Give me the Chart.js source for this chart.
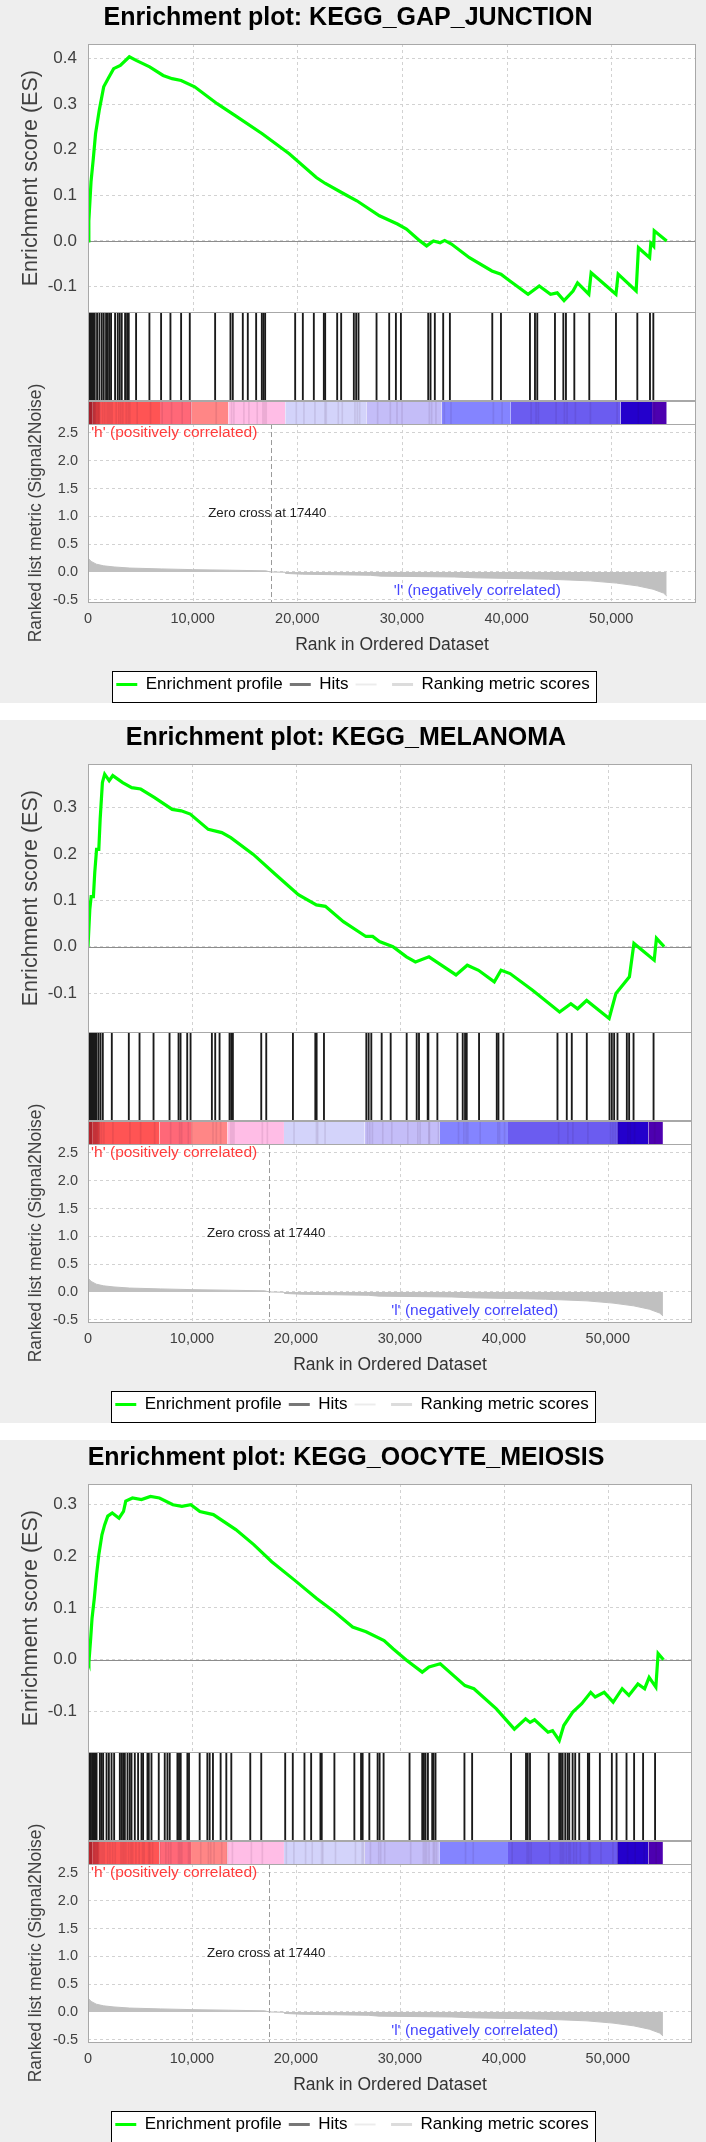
<!DOCTYPE html>
<html>
<head>
<meta charset="utf-8">
<title>GSEA enrichment plots</title>
<script src="https://cdn.jsdelivr.net/npm/chart.js@4.4.1/dist/chart.umd.min.js"></script>
<style>
  body { margin: 0; background: #fff; width: 706px; }
  .panel { width: 706px; height: 703px; background: #eeeeee; margin-bottom: 17px; }
  canvas { display: block; }
</style>
</head>
<body>
<div class="panel"><canvas id="gap" width="706" height="703"></canvas></div>
<div class="panel"><canvas id="mel" width="706" height="703"></canvas></div>
<div class="panel"><canvas id="ooc" width="706" height="703"></canvas></div>
<script>
// ---- data ----
const rankMax = 58100;
const rankTicks = [0, 10000, 20000, 30000, 40000, 50000];
const zeroCross = 17440;

// ranked list (shared by all three gene sets): [rank, signal2noise]
const rankedMetric = [[0, 0.25], [300, 0.19], [800, 0.14], [1500, 0.11], [2500, 0.09], [4000, 0.07],
  [7000, 0.055], [10000, 0.042], [13500, 0.032], [17000, 0.02], [17440, 0], [18850, -0.004],
  [18900, -0.026], [20500, -0.04], [27000, -0.06], [28000, -0.075], [35000, -0.09], [37000, -0.105],
  [44000, -0.13], [48000, -0.16], [50500, -0.2], [52500, -0.25], [54000, -0.31], [55000, -0.38],
  [55300, -0.43]];

// heat bar segment edges (ranks)
const heatEdges = [0, 400, 1150, 6880, 9910, 13410, 18850, 26600, 33800, 40400, 50900, 53900, 55300];

// KEGG_GAP_JUNCTION
const gapEnrichment = [[0, 0], [80, 0.044], [290, 0.13], [505, 0.18], [720, 0.235], [1070, 0.286],
  [1500, 0.338], [2020, 0.36], [2450, 0.378], [3090, 0.385], [3950, 0.404], [4600, 0.396],
  [5890, 0.382], [7180, 0.363], [8040, 0.356], [8900, 0.352], [10190, 0.338], [12340, 0.301],
  [14070, 0.275], [16650, 0.235], [19230, 0.191], [21820, 0.139], [22680, 0.126], [24400, 0.104],
  [25690, 0.088], [27850, 0.055], [29570, 0.037], [30430, 0.026], [31720, 0], [32360, -0.011],
  [33010, 0], [33650, -0.004], [34080, 0.001], [34730, -0.007], [36450, -0.037], [38600, -0.066],
  [39460, -0.073], [40320, -0.088], [42050, -0.117], [43120, -0.099], [44200, -0.117],
  [44840, -0.114], [45490, -0.131], [46350, -0.110], [46780, -0.092], [47860, -0.117],
  [48080, -0.070], [50450, -0.117], [50660, -0.073], [52380, -0.110], [52600, -0.015],
  [53670, -0.037], [53780, -0.005], [54060, -0.012], [54110, 0.022], [55300, 0]];
const gapHits = [50, 96, 160, 223, 290, 350, 420, 478, 540, 605, 700, 924, 1147, 1370, 1561, 1784,
  1944, 2103, 2262, 2645, 2900, 3091, 3282, 3601, 3792, 3951, 4653, 5927, 7042, 7935, 8955, 9784,
  12205, 13671, 13894, 14850, 15328, 16125, 16667, 16826, 16986, 19854, 20587, 21638, 22594, 22721,
  23868, 24250, 25461, 25684, 25907, 27630, 28840, 29480, 29960, 32570, 32790, 33200, 34000, 34640,
  38690, 39520, 42290, 42770, 42990, 44680, 45480, 45730, 46530, 47960, 50510, 52550, 53760, 54080];
const gapEsRange = [-0.157, 0.432];

// KEGG_MELANOMA
const melEnrichment = [[0, 0], [173, 0.08], [303, 0.108], [520, 0.108], [650, 0.16], [823, 0.21],
  [1040, 0.21], [1170, 0.275], [1386, 0.354], [1603, 0.372], [2036, 0.358], [2383, 0.369],
  [3336, 0.354], [4203, 0.343], [5069, 0.34], [6369, 0.322], [8102, 0.296], [8969, 0.293],
  [9835, 0.286], [11568, 0.253], [12868, 0.246], [13735, 0.235], [15901, 0.199], [18068, 0.155],
  [20234, 0.112], [21967, 0.09], [22834, 0.087], [24567, 0.054], [26733, 0.022], [27383, 0.022],
  [28033, 0.011], [29333, 0], [30633, -0.022], [31499, -0.033], [32799, -0.022], [33666, -0.035],
  [35399, -0.061], [36482, -0.040], [37565, -0.051], [39081, -0.076], [39731, -0.051],
  [40598, -0.058], [42764, -0.094], [45364, -0.141], [46447, -0.123], [47097, -0.134],
  [47963, -0.116], [50130, -0.155], [50780, -0.101], [52080, -0.065], [52513, 0.007],
  [54463, -0.029], [54680, 0.018], [55416, 0]];
const melHits = [106, 200, 298, 400, 491, 600, 683, 780, 876, 1068, 1261, 1482, 2348, 3984, 5015,
  6362, 7902, 8768, 8960, 9602, 9923, 11974, 12295, 12712, 13674, 13835, 13995, 16723, 17205,
  19771, 21924, 22050, 22756, 26831, 27053, 27310, 28307, 29173, 30713, 31676, 31897, 32734, 32799,
  33665, 35590, 36103, 36327, 36489, 37674, 39378, 39538, 40020, 45218, 46113, 46594, 48038, 50223,
  50445, 50670, 50990, 51889, 52111, 52535, 54460];
const melEsRange = [-0.185, 0.394];

// KEGG_OOCYTE_MEIOSIS
const oocEnrichment = [[0, 0], [86, -0.005], [259, 0.041], [389, 0.08], [605, 0.118], [821, 0.164],
  [1037, 0.202], [1340, 0.241], [1599, 0.26], [1901, 0.277], [2334, 0.283], [2982, 0.273],
  [3414, 0.286], [3630, 0.306], [4278, 0.312], [5143, 0.309], [6007, 0.315], [6871, 0.312],
  [8168, 0.299], [9032, 0.296], [9896, 0.299], [10761, 0.286], [12057, 0.28], [14218, 0.251],
  [15946, 0.222], [17675, 0.189], [19836, 0.154], [21997, 0.118], [23725, 0.092], [25454, 0.063],
  [26750, 0.054], [28479, 0.037], [29343, 0.021], [30640, -0.001], [32152, -0.024], [32800, -0.014],
  [33881, -0.008], [36258, -0.05], [37122, -0.056], [39283, -0.095], [41012, -0.134],
  [42092, -0.114], [42524, -0.121], [42956, -0.116], [44252, -0.14], [44684, -0.137],
  [45333, -0.156], [45765, -0.127], [46629, -0.101], [47493, -0.085], [48358, -0.063],
  [48790, -0.072], [49654, -0.063], [50519, -0.082], [51383, -0.056], [52031, -0.069],
  [52896, -0.047], [53544, -0.056], [53976, -0.034], [54624, -0.053], [54840, 0.012], [55359, 0]];
const oocHits = [144, 240, 336, 461, 557, 653, 787, 883, 1200, 1363, 1517, 1843, 2064, 2323, 2573,
  3120, 3283, 3437, 3600, 3859, 4080, 4243, 4560, 4877, 5203, 5357, 5779, 5904, 6163, 6864, 7440,
  7699, 7920, 8659, 8813, 8976, 9619, 9773, 10800, 11539, 11760, 12077, 12816, 13363, 13843, 15667,
  16723, 19027, 19757, 20880, 21523, 22416, 22541, 23760, 25680, 26323, 26477, 27120, 27917, 28109,
  28493, 30989, 32208, 32371, 32525, 32755, 33168, 33293, 33485, 36269, 37008, 40752, 42192, 42355,
  42576, 44371, 45389, 45552, 45715, 45965, 46195, 46349, 46675, 46925, 47309, 48144, 48269, 49296,
  50448, 50899, 51859, 52589, 53453, 54605];
const oocEsRange = [-0.179, 0.339];

// ---- styles ----
const FONT = '"Liberation Sans", Arial, sans-serif';
const heatColors = ['#c42a2e', '#e03c3e', '#ff5454', '#ff6878', '#ff8686', '#ffbde6', '#d3d3fa',
  '#c4bdf8', '#8484ff', '#6b5cf0', '#2400cc', '#4d00b0'];
const tickGray = '#404040';

Chart.defaults.font.family = FONT;

const gseaDecor = {
  id: 'gseaDecor',
  afterLayout(chart, args, opts) {
    // nudge the legend so it sits centred like the original
    const lg = chart.legend;
    lg.left += opts.legendShift;
    lg.right += opts.legendShift;
  },
  beforeDraw(chart) {
    const { ctx, chartArea: a } = chart;
    ctx.save();
    ctx.fillStyle = '#fff';
    ctx.fillRect(a.left, a.top, a.right - a.left, a.bottom - a.top);
    // legend frame
    const lg = chart.legend;
    const hb = lg.legendHitBoxes;
    if (hb && hb.length) {
      const last = hb[hb.length - 1];
      const l = Math.round(hb[0].left - 4) + 0.5;
      const r = Math.round(last.left + last.width + 6) + 0.5;
      const t = Math.round(lg.top + 2) + 0.5;
      const b = Math.round(lg.bottom) - 0.5;
      ctx.fillRect(l, t, r - l, b - t);
      ctx.strokeStyle = '#000';
      ctx.lineWidth = 1;
      ctx.strokeRect(l, t, r - l, b - t);
    }
    ctx.restore();
  },
  beforeDatasetsDraw(chart) {
    const { ctx, chartArea: a, scales } = chart;
    const x = scales.x;
    ctx.save();
    ctx.lineWidth = 1;
    ctx.strokeStyle = '#d2d2d2';
    ctx.setLineDash([3, 3]);
    ['es', 'metric'].forEach(id => {
      const s = scales[id];
      x.ticks.forEach(t => {
        const px = Math.round(x.getPixelForValue(t.value)) + 0.5;
        if (px <= a.left + 1) return;
        ctx.beginPath();
        ctx.moveTo(px, s.top);
        ctx.lineTo(px, s.bottom);
        ctx.stroke();
      });
    });
    const m = scales.metric;
    const zc = Math.round(x.getPixelForValue(zeroCross)) + 0.5;
    ctx.strokeStyle = '#9a9a9a';
    ctx.setLineDash([5, 3]);
    ctx.beginPath();
    ctx.moveTo(zc, m.top);
    ctx.lineTo(zc, m.bottom);
    ctx.stroke();
    const es = scales.es;
    const zy = Math.round(es.getPixelForValue(0)) + 0.5;
    ctx.setLineDash([]);
    ctx.strokeStyle = '#8c8c8c';
    ctx.beginPath();
    ctx.moveTo(a.left, zy);
    ctx.lineTo(a.right, zy);
    ctx.stroke();
    ctx.restore();
  },
  afterDatasetsDraw(chart) {
    const { ctx, chartArea: a, scales } = chart;
    const x = scales.x, m = scales.metric;
    ctx.save();
    ctx.strokeStyle = '#a8a8a8';
    ctx.lineWidth = 1;
    ['es', 'hits', 'cb', 'metric'].forEach(id => {
      const s = scales[id];
      ctx.strokeRect(Math.round(a.left) + 0.5, Math.round(s.top) + 0.5,
        Math.round(a.right - a.left) - 1, Math.round(s.bottom - s.top));
    });
    ctx.textBaseline = 'middle';
    ctx.font = '15.5px ' + FONT;
    ctx.fillStyle = '#ff3c3c';
    ctx.textAlign = 'left';
    ctx.fillText("'h' (positively correlated)", x.getPixelForValue(300), m.getPixelForValue(2.5));
    ctx.fillStyle = '#4646ff';
    ctx.textAlign = 'center';
    ctx.fillText("'l' (negatively correlated)", x.getPixelForValue(37200), m.getPixelForValue(-0.33));
    ctx.fillStyle = '#222';
    ctx.font = '13.3px ' + FONT;
    ctx.fillText('Zero cross at ' + zeroCross, x.getPixelForValue(zeroCross - 300), m.getPixelForValue(1.05));
    ctx.restore();
  }
};

function fixWidth(scale) { scale.width = 88; }

function makeChart(id, setName, enrichment, hits, esRange, padRight) {
  const heatSets = heatColors.map((c, i) => ({
    type: 'line',
    yAxisID: 'cb',
    data: [{ x: heatEdges[i], y: 1 }, { x: heatEdges[i + 1], y: 1 }],
    fill: 'origin',
    backgroundColor: c,
    borderWidth: 0,
    pointRadius: 0
  }));

  return new Chart(document.getElementById(id), {
    type: 'line',
    data: {
      datasets: [
        {
          label: 'Enrichment profile',
          yAxisID: 'es',
          data: enrichment.map(p => ({ x: p[0], y: p[1] })),
          borderColor: '#00ff00',
          borderWidth: 3.2,
          pointRadius: 0,
          tension: 0
        },
        {
          type: 'bar',
          label: 'Hits',
          yAxisID: 'hits',
          data: hits.map(r => ({ x: r, y: [0, 1] })),
          backgroundColor: '#1a1a1a',
          barThickness: 1.2
        },
        {
          // faint trace of the hits through the heat bar
          type: 'bar',
          yAxisID: 'cb',
          data: hits.map(r => ({ x: r, y: [0, 1] })),
          backgroundColor: 'rgba(40, 0, 40, 0.09)',
          barThickness: 1
        },
        ...heatSets,
        {
          label: 'Ranking metric scores',
          yAxisID: 'metric',
          data: rankedMetric.map(p => ({ x: p[0], y: p[1] })),
          fill: 'origin',
          backgroundColor: '#c0c0c0',
          borderColor: '#c0c0c0',
          borderWidth: 1,
          pointRadius: 0
        }
      ]
    },
    options: {
      responsive: false,
      animation: false,
      layout: { padding: { left: 0, right: padRight, top: 0, bottom: 0 } },
      scales: {
        x: {
          type: 'linear',
          min: 0,
          max: rankMax,
          offset: false,
          afterBuildTicks: s => { s.ticks = rankTicks.map(v => ({ value: v })); },
          afterFit: s => { s.height = 67; },
          grid: { display: false, drawTicks: false },
          border: { display: false },
          ticks: {
            autoSkip: false,
            maxRotation: 0,
            padding: 8,
            color: tickGray,
            font: { size: 14.5 },
            callback: v => v.toLocaleString('en-US')
          },
          title: {
            display: true,
            text: 'Rank in Ordered Dataset',
            color: '#333',
            font: { size: 17.5 },
            padding: { top: 7, bottom: 13.5 }
          }
        },
        es: {
          type: 'linear',
          position: 'left',
          stack: 'gsea',
          stackWeight: 267,
          weight: 4,
          min: esRange[0],
          max: esRange[1],
          afterFit: fixWidth,
          grid: { color: '#d2d2d2', drawTicks: false },
          border: { display: false, dash: [3, 3] },
          ticks: {
            stepSize: 0.1,
            includeBounds: false,
            autoSkip: false,
            padding: 11,
            color: tickGray,
            font: { size: 17 },
            callback: v => v.toFixed(1)
          },
          title: {
            display: true,
            text: 'Enrichment score (ES)',
            color: tickGray,
            font: { size: 21.5 },
            padding: { top: 18, bottom: 0 }
          }
        },
        hits: {
          type: 'linear',
          position: 'left',
          stack: 'gsea',
          stackWeight: 88,
          weight: 3,
          min: 0,
          max: 1,
          afterFit: fixWidth,
          grid: { display: false, drawTicks: false },
          border: { display: false },
          ticks: { display: false }
        },
        cb: {
          type: 'linear',
          position: 'left',
          stack: 'gsea',
          stackWeight: 23,
          weight: 2,
          min: 0,
          max: 1,
          afterFit: fixWidth,
          grid: { display: false, drawTicks: false },
          border: { display: false },
          ticks: { display: false }
        },
        metric: {
          type: 'linear',
          position: 'left',
          stack: 'gsea',
          stackWeight: 177,
          weight: 1,
          min: -0.54,
          max: 2.66,
          afterFit: fixWidth,
          grid: { color: '#d2d2d2', drawTicks: false },
          border: { display: false, dash: [3, 3] },
          ticks: {
            stepSize: 0.5,
            includeBounds: false,
            autoSkip: false,
            padding: 10,
            color: tickGray,
            font: { size: 14.5 },
            callback: v => v.toFixed(1)
          },
          title: {
            display: true,
            text: 'Ranked list metric (Signal2Noise)',
            color: tickGray,
            font: { size: 17.5 },
            padding: { top: 25.5, bottom: 0 }
          }
        }
      },
      plugins: {
        gseaDecor: { legendShift: padRight === 10 ? 5 : 6 },
        title: {
          display: true,
          text: 'Enrichment plot: ' + setName,
          color: '#000',
          font: { size: 25, weight: 'bold' },
          padding: { top: 3, bottom: 11 }
        },
        legend: {
          position: 'bottom',
          onClick: null,
          labels: {
            usePointStyle: true,
            pointStyleWidth: 21,
            padding: 7,
            color: '#222',
            font: { size: 17 },
            generateLabels: () => [
              { text: 'Enrichment profile', strokeStyle: '#00ff00', fillStyle: '#00ff00', lineWidth: 3, pointStyle: 'line', hidden: false },
              { text: 'Hits', strokeStyle: '#777777', fillStyle: '#777777', lineWidth: 3, pointStyle: 'line', hidden: false },
              { text: '', strokeStyle: '#ececec', fillStyle: '#ececec', lineWidth: 2, pointStyle: 'line', hidden: false },
              { text: 'Ranking metric scores', strokeStyle: '#dcdcdc', fillStyle: '#dcdcdc', lineWidth: 3, pointStyle: 'line', hidden: false }
            ]
          }
        },
        tooltip: { enabled: false }
      }
    },
    plugins: [gseaDecor]
  });
}

makeChart('gap', 'KEGG_GAP_JUNCTION', gapEnrichment, gapHits, gapEsRange, 10);
makeChart('mel', 'KEGG_MELANOMA', melEnrichment, melHits, melEsRange, 14);
makeChart('ooc', 'KEGG_OOCYTE_MEIOSIS', oocEnrichment, oocHits, oocEsRange, 14);
</script>
</body>
</html>
